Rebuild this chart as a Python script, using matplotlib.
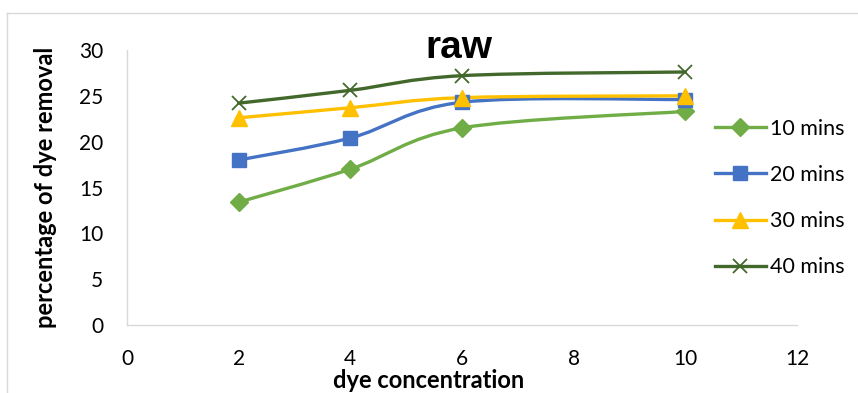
import matplotlib
matplotlib.use("Agg")
import matplotlib.pyplot as plt
from matplotlib.path import Path
from matplotlib.patches import PathPatch
from matplotlib.lines import Line2D

# data
conc = [2, 4, 6, 10]
mins10 = [13.4, 17.0, 21.5, 23.3]
mins20 = [18.0, 20.4, 24.3, 24.6]
mins30 = [22.6, 23.7, 24.8, 25.0]
mins40 = [24.2, 25.6, 27.2, 27.6]

series = [
    ("10 mins", mins10, "#70AD47", "D", 9),
    ("20 mins", mins20, "#4472C4", "s", 10),
    ("30 mins", mins30, "#FFC000", "^", 11),
    ("40 mins", mins40, "#43682B", "x", 10),
]


def smooth_path(xs, ys):
    # excel style smoothed line: catmull-rom bezier through the points
    pts = list(zip(xs, ys))
    n = len(pts)
    verts = [pts[0]]
    codes = [Path.MOVETO]
    for i in range(n - 1):
        p0 = pts[max(i - 1, 0)]
        p1 = pts[i]
        p2 = pts[i + 1]
        p3 = pts[min(i + 2, n - 1)]
        c1 = (p1[0] + (p2[0] - p0[0]) / 6.0, p1[1] + (p2[1] - p0[1]) / 6.0)
        c2 = (p2[0] - (p3[0] - p1[0]) / 6.0, p2[1] - (p3[1] - p1[1]) / 6.0)
        verts += [c1, c2, p2]
        codes += [Path.CURVE4] * 3
    return Path(verts, codes)


fig = plt.figure(figsize=(8.58, 3.93), dpi=100)
ax = fig.add_axes([127 / 858, 1 - 325 / 393, 670 / 858, 275 / 393])

handles = []
for name, vals, col, mk, ms in series:
    ax.add_patch(PathPatch(smooth_path(conc, vals), fill=False, edgecolor=col,
                           linewidth=2.4, capstyle="round", zorder=2))
    if mk == "x":
        ax.plot(conc, vals, linestyle="none", marker=mk, markersize=ms,
                markeredgecolor=col, markeredgewidth=1.3, zorder=3)
    else:
        ax.plot(conc, vals, linestyle="none", marker=mk, markersize=ms,
                color=col, zorder=3)
    handles.append(Line2D([], [], color=col, linewidth=2.4, marker=mk,
                          markersize=ms, markeredgewidth=1.3 if mk == "x" else 1,
                          label=name))

ax.set_xlim(0, 12)
ax.set_ylim(0, 30)
ax.set_xticks(range(0, 13, 2))
ax.set_yticks(range(0, 31, 5))
for s in ["top", "right"]:
    ax.spines[s].set_visible(False)
for s in ["left", "bottom"]:
    ax.spines[s].set_color("#d9d9d9")
    ax.spines[s].set_linewidth(1.0)
ax.tick_params(length=0, labelsize=15)
ax.tick_params(axis="y", pad=17)
ax.tick_params(axis="x", pad=17)
for lab in ax.get_xticklabels() + ax.get_yticklabels():
    lab.set_fontfamily("Lato")

ax.set_xlabel("dye concentration", fontsize=17, fontweight="bold",
              fontfamily="Lato")
ax.xaxis.set_label_coords((429 - 127) / 670, (325 - 381) / 275)
ax.xaxis.label.set_va("center")
ax.set_ylabel("percentage of dye removal", fontsize=17, fontweight="bold",
              fontfamily="Lato")
ax.yaxis.set_label_coords((45 - 127) / 670, 0.5)
ax.yaxis.label.set_va("center")
fig.text(459 / 858, 1 - 48 / 393, "raw", fontsize=28, fontweight="bold",
         fontfamily="Liberation Sans", ha="center", va="center")

leg = fig.legend(handles=handles, loc="upper left",
                 bbox_to_anchor=(706 / 858, 1 - 110 / 393), frameon=False,
                 prop={"family": "Lato", "size": 15.5}, handlelength=2.4,
                 handletextpad=0.15, labelspacing=1.22, borderaxespad=0)

# outer chart border (cropped on right and bottom)
fig.add_artist(Line2D([7 / 858, 7 / 858], [0, 1 - 13 / 393], color="#d9d9d9",
                      linewidth=1.0, transform=fig.transFigure))
fig.add_artist(Line2D([7 / 858, 1], [1 - 13 / 393, 1 - 13 / 393],
                      color="#d9d9d9", linewidth=1.0, transform=fig.transFigure))

fig.savefig("out.png", dpi=100)
